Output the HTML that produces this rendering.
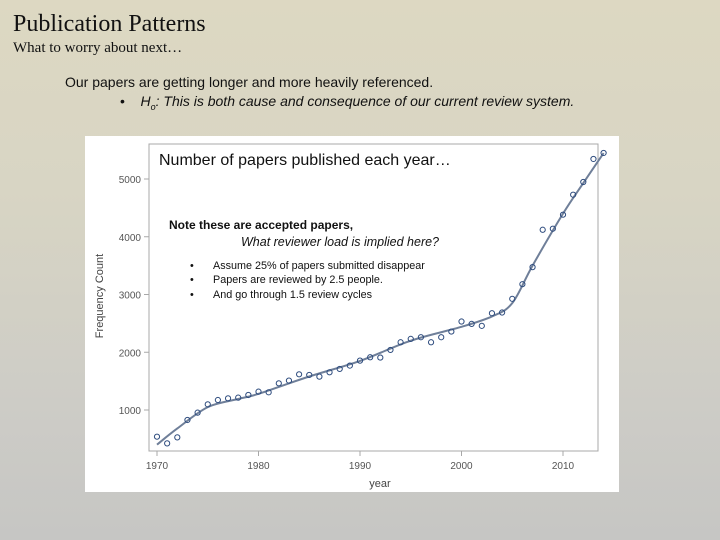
<!DOCTYPE html>
<html><head><meta charset="utf-8"><style>
html,body{margin:0;padding:0}
body{width:720px;height:540px;overflow:hidden;position:relative;background:linear-gradient(#ddd8c2 0%,#d8d5c4 35%,#cdccc6 75%,#c6c6c4 100%);font-family:"Liberation Sans",sans-serif}
.t{position:absolute;white-space:nowrap;margin:0}
</style></head><body>
<div class="t" style="left:13px;top:11px;font:24px 'Liberation Serif',serif;color:#111">Publication Patterns</div>
<div class="t" style="left:13px;top:40px;font:15px 'Liberation Serif',serif;color:#111">What to worry about next…</div>
<div class="t" style="left:65px;top:74px;font:14px 'Liberation Sans',sans-serif;color:#111">Our papers are getting longer and more heavily referenced.</div>
<div class="t" style="left:120px;top:93px;font:14px 'Liberation Sans',sans-serif;color:#111">•&nbsp;&nbsp;&nbsp;&nbsp;<i>H<sub style="font-size:9px">o</sub>: This is both cause and consequence of our current review system.</i></div>
<svg style="position:absolute;left:0;top:0" width="720" height="540">
<rect x="85" y="136" width="534" height="356" fill="#fff"/>
<rect x="149" y="144" width="449" height="307" fill="none" stroke="#a8a8a8" stroke-width="1"/>
<g id="ticks"></g><g id="marks"></g>
<text x="380" y="487" font-size="11" fill="#444" text-anchor="middle" font-family="Liberation Sans">year</text>
<text transform="translate(103,296) rotate(-90)" font-size="11" fill="#444" text-anchor="middle" font-family="Liberation Sans">Frequency Count</text>
<text x="159" y="165" font-size="16" fill="#111" font-family="Liberation Sans">Number of papers published each year…</text>
<text x="169" y="229" font-size="12" font-weight="bold" fill="#111" font-family="Liberation Sans">Note these are accepted papers,</text>
<text x="241" y="246" font-size="12.5" font-style="italic" fill="#111" font-family="Liberation Sans">What reviewer load is implied here?</text>
<g font-size="10.8" fill="#111" font-family="Liberation Sans">
<text x="190" y="269">•<tspan x="213">Assume 25% of papers submitted disappear</tspan></text>
<text x="190" y="283">•<tspan x="213">Papers are reviewed by 2.5 people.</tspan></text>
<text x="190" y="298">•<tspan x="213">And go through 1.5 review cycles</tspan></text>
</g>
</svg>
<script>
const years=[1970,1971,1972,1973,1974,1975,1976,1977,1978,1979,1980,1981,1982,1983,1984,1985,1986,1987,1988,1989,1990,1991,1992,1993,1994,1995,1996,1997,1998,1999,2000,2001,2002,2003,2004,2005,2006,2007,2008,2009,2010,2011,2012,2013,2014];
const counts=[538,422,526,827,954,1098,1173,1202,1214,1260,1318,1306,1462,1509,1618,1607,1578,1653,1711,1769,1855,1913,1908,2040,2173,2231,2260,2173,2260,2358,2532,2491,2457,2676,2688,2925,3179,3474,4121,4139,4382,4728,4948,5347,5451];
const fitYears=[1970,1972,1975,1978,1980,1985,1990,1995,2000,2003,2005,2007,2010,2012,2014];
const fitValues=[400,680,1050,1190,1280,1580,1850,2200,2440,2620,2850,3500,4400,4930,5450];
const xTicks=[1970,1980,1990,2000,2010];
const xTickLabels=['1970','1980','1990','2000','2010'];
const yTicks=[1000,2000,3000,4000,5000];
const yTickLabels=['1000','2000','3000','4000','5000'];
const NS='http://www.w3.org/2000/svg';
const X=v=>157+(v-1970)*10.15;
const Y=v=>410-(v-1000)*0.05775;
const tk=document.getElementById('ticks'),mk=document.getElementById('marks');
function mkEl(t,a,p){const e=document.createElementNS(NS,t);for(const k in a)e.setAttribute(k,a[k]);p.appendChild(e);return e;}
xTicks.forEach((v,i)=>{
 const l=mkEl('line',{x1:X(v),x2:X(v),y1:451,y2:456,stroke:'#a8a8a8'},tk);
 
 
 const t=mkEl('text',{x:X(v),y:469,'font-size':10,fill:'#555','text-anchor':'middle','font-family':'Liberation Sans'},tk);
 t.textContent=xTickLabels[i];
 
 
});
yTicks.forEach((v,i)=>{
 const l=mkEl('line',{x1:144,x2:149,y1:Y(v),y2:Y(v),stroke:'#a8a8a8'},tk);
 
 
 const t=mkEl('text',{x:141,y:Y(v)+4,'font-size':10,fill:'#555','text-anchor':'end','font-family':'Liberation Sans'},tk);
 t.textContent=yTickLabels[i];
 
 
});
const P=fitYears.map((y,i)=>[X(y),Y(fitValues[i])]);
let d='M'+P[0][0]+','+P[0][1];
for(let i=0;i<P.length-1;i++){
 const p0=P[i-1]||P[i],p1=P[i],p2=P[i+1],p3=P[i+2]||P[i+1];
 d+=' C'+(p1[0]+(p2[0]-p0[0])/6)+','+(p1[1]+(p2[1]-p0[1])/6)+' '+(p2[0]-(p3[0]-p1[0])/6)+','+(p2[1]-(p3[1]-p1[1])/6)+' '+p2[0]+','+p2[1];
}
const fl=mkEl('path',{d:d,fill:'none',stroke:'#6f7f99','stroke-width':2},mk);


years.forEach((y,i)=>{
 const c=mkEl('circle',{cx:X(y),cy:Y(counts[i]),r:2.6,fill:'none',stroke:'#2e4c7e','stroke-width':1},mk);
 
 
});
</script>
</body></html>
